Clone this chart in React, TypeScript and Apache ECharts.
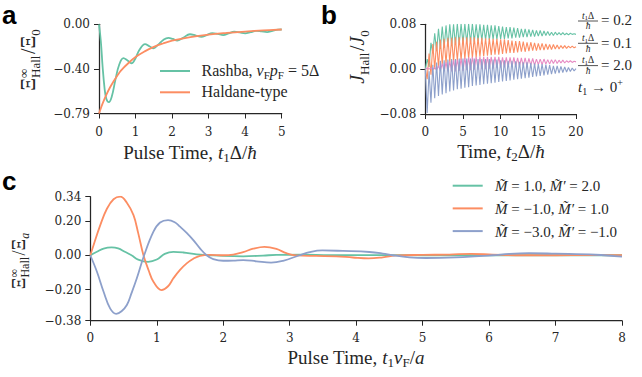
import React, { useEffect, useRef } from 'react';
import * as echarts from 'echarts';

const SERIF = "'Liberation Serif', 'Times New Roman', serif";
const TICK_FONT = 'DejaVu Serif';
const SANS = "'Liberation Sans', Arial, sans-serif";
const INK = '#262626';
const GREEN = '#66c2a5';
const ORANGE = '#fc8d62';
const BLUE = '#8da0cb';
const PINK = '#e78ac3';

// ---------- Panel a ----------
const aXTicks = [0, 5, 1];
const aYTicks = [-0.79, -0.4, 0.0];
const aRashba: [number, number][] = [
  [0, 0], [0.05, -0.15], [0.1, -0.38], [0.15, -0.56], [0.2, -0.66], [0.27, -0.69], [0.35, -0.64],
  [0.45, -0.49], [0.55, -0.36], [0.67, -0.3], [0.78, -0.32], [0.89, -0.345], [1.0, -0.3], [1.1, -0.23],
  [1.26, -0.175], [1.38, -0.195], [1.49, -0.213], [1.62, -0.18], [1.76, -0.138], [1.9, -0.12], [2.02, -0.13],
  [2.14, -0.145], [2.3, -0.12], [2.49, -0.088], [2.65, -0.1], [2.8, -0.112], [2.95, -0.095], [3.1, -0.078],
  [3.25, -0.085], [3.4, -0.095], [3.55, -0.08], [3.7, -0.066], [3.85, -0.072], [4.0, -0.08], [4.15, -0.07],
  [4.3, -0.058], [4.45, -0.063], [4.6, -0.069], [4.75, -0.058], [4.9, -0.048], [5.0, -0.046],
];
const aHaldane: [number, number][] = [
  [0, -0.79], [0.05, -0.745], [0.1, -0.7], [0.2, -0.625], [0.3, -0.56], [0.4, -0.505], [0.5, -0.455],
  [0.6, -0.41], [0.8, -0.345], [1.0, -0.29], [1.25, -0.24], [1.5, -0.2], [1.75, -0.17], [2.0, -0.145],
  [2.5, -0.113], [3.0, -0.091], [3.5, -0.076], [4.0, -0.064], [4.5, -0.054], [5.0, -0.046],
];

// ---------- Panel b (samples every 0.25 time units, peaks and troughs) ----------
const bStep = 0.25;
const bXTicks = [0, 20, 5];
const bYTicks = [-0.08, 0.08, 0.08];
const bGreen = [
  0.000, 0.018, 0.004, 0.047, 0.028, 0.064, 0.032, 0.072, 0.036, 0.076,
  0.038, 0.078, 0.040, 0.080, 0.041, 0.080, 0.043, 0.081, 0.044, 0.081,
  0.046, 0.081, 0.047, 0.081, 0.048, 0.081, 0.049, 0.080, 0.050, 0.080,
  0.051, 0.079, 0.052, 0.079, 0.052, 0.078, 0.053, 0.078, 0.053, 0.077,
  0.054, 0.076, 0.054, 0.075, 0.055, 0.075, 0.055, 0.074, 0.056, 0.073,
  0.056, 0.072, 0.057, 0.072, 0.057, 0.071, 0.058, 0.070, 0.058, 0.069,
  0.059, 0.069, 0.059, 0.068, 0.060, 0.067, 0.060, 0.066, 0.060, 0.066,
  0.061, 0.065, 0.061, 0.065, 0.061, 0.064, 0.061, 0.064, 0.062, 0.063,
  0.062,
];
const bOrange = [
  0.000, -0.018, 0.028, -0.010, 0.045, 0.000, 0.049, 0.004, 0.053, 0.008,
  0.054, 0.010, 0.056, 0.012, 0.056, 0.013, 0.057, 0.015, 0.057, 0.016,
  0.057, 0.018, 0.057, 0.019, 0.057, 0.020, 0.057, 0.021, 0.056, 0.022,
  0.056, 0.023, 0.055, 0.024, 0.055, 0.025, 0.054, 0.026, 0.054, 0.026,
  0.053, 0.027, 0.053, 0.028, 0.052, 0.029, 0.051, 0.029, 0.050, 0.030,
  0.050, 0.031, 0.049, 0.031, 0.048, 0.032, 0.048, 0.033, 0.047, 0.033,
  0.046, 0.034, 0.046, 0.034, 0.045, 0.035, 0.044, 0.035, 0.044, 0.036,
  0.043, 0.036, 0.042, 0.037, 0.042, 0.037, 0.041, 0.038, 0.041, 0.038,
  0.040,
];
const bPink = [
  0.000, 0.002, 0.000, 0.002, -0.001, 0.003, -0.002, 0.006, -0.003, 0.010,
  -0.004, 0.012, -0.004, 0.014, -0.004, 0.016, -0.004, 0.017, -0.003, 0.019,
  -0.003, 0.020, -0.002, 0.021, -0.002, 0.022, -0.001, 0.022, -0.001, 0.022,
  0.000, 0.022, 0.000, 0.022, 0.001, 0.022, 0.001, 0.022, 0.002, 0.022,
  0.003, 0.021, 0.003, 0.021, 0.004, 0.021, 0.004, 0.021, 0.005, 0.020,
  0.005, 0.020, 0.006, 0.020, 0.006, 0.019, 0.007, 0.019, 0.007, 0.018,
  0.008, 0.018, 0.008, 0.018, 0.009, 0.017, 0.009, 0.017, 0.010, 0.017,
  0.010, 0.016, 0.011, 0.016, 0.011, 0.015, 0.012, 0.015, 0.012, 0.014,
  0.013,
];
const bBlue = [
  0.000, -0.078, -0.004, -0.060, 0.008, -0.052, 0.012, -0.048, 0.015, -0.045,
  0.016, -0.043, 0.017, -0.040, 0.018, -0.038, 0.018, -0.036, 0.019, -0.035,
  0.019, -0.033, 0.019, -0.032, 0.019, -0.030, 0.019, -0.029, 0.018, -0.028,
  0.018, -0.027, 0.018, -0.026, 0.018, -0.025, 0.017, -0.024, 0.017, -0.023,
  0.016, -0.022, 0.016, -0.021, 0.015, -0.020, 0.015, -0.019, 0.014, -0.018,
  0.013, -0.017, 0.012, -0.016, 0.012, -0.015, 0.011, -0.014, 0.010, -0.013,
  0.009, -0.012, 0.009, -0.011, 0.008, -0.010, 0.007, -0.009, 0.006, -0.008,
  0.006, -0.007, 0.005, -0.006, 0.004, -0.005, 0.003, -0.004, 0.002, -0.003,
  0.001,
];
const bLegendValues = ['0.2', '0.1', '2.0'];

// ---------- Panel c ----------
const cXTicks = [0, 8, 1];
const cYTicks = [-0.38, -0.2, 0.0, 0.2, 0.34];
const cGreen: [number, number][] = [
  [0, 0], [0.1, 0.02], [0.2, 0.039], [0.32, 0.046], [0.42, 0.04], [0.52, 0.02], [0.62, 0.0], [0.72, -0.025],
  [0.87, -0.038], [1.0, -0.025], [1.12, 0.008], [1.25, 0.02], [1.4, 0.016], [1.6, 0.005], [1.8, 0.0],
  [2.0, -0.004], [2.3, -0.006], [2.6, -0.002], [2.8, 0.002], [3.2, 0.003], [3.6, 0.0], [4.0, 0.001],
  [5, 0.0], [6, 0.0], [7, 0.0], [8, 0.0],
];
const cOrange: [number, number][] = [
  [0, 0], [0.05, 0.06], [0.15, 0.175], [0.25, 0.27], [0.35, 0.325], [0.45, 0.34], [0.55, 0.305], [0.65, 0.233],
  [0.72, 0.13], [0.8, 0.0], [0.88, -0.09], [0.95, -0.154], [1.07, -0.202], [1.17, -0.18], [1.25, -0.134],
  [1.35, -0.085], [1.45, -0.047], [1.55, -0.02], [1.65, -0.003], [1.8, 0.002], [2.0, 0.0], [2.15, 0.004],
  [2.3, 0.018], [2.45, 0.038], [2.62, 0.049], [2.8, 0.037], [2.95, 0.012], [3.1, -0.001], [3.4, -0.004],
  [3.7, -0.006], [3.95, -0.013], [4.19, -0.018], [4.4, -0.012], [4.62, -0.001], [5.0, 0.002], [5.4, 0.004],
  [5.73, 0.008], [6.05, 0.004], [6.5, 0.0], [7.0, 0.0], [7.5, 0.001], [8.0, 0.0],
];
const cBlue: [number, number][] = [
  [0, 0], [0.1, -0.096], [0.2, -0.212], [0.3, -0.31], [0.39, -0.34], [0.47, -0.325], [0.55, -0.289],
  [0.62, -0.22], [0.7, -0.134], [0.81, 0.0], [0.95, 0.137], [1.05, 0.19], [1.17, 0.204], [1.27, 0.192],
  [1.35, 0.166], [1.45, 0.13], [1.55, 0.088], [1.65, 0.04], [1.75, 0.0], [1.85, -0.022], [2.0, -0.032],
  [2.15, -0.031], [2.3, -0.028], [2.5, -0.035], [2.72, -0.043], [2.9, -0.032], [3.15, 0.0], [3.3, 0.018],
  [3.49, 0.028], [3.8, 0.025], [4.2, 0.019], [4.4, 0.01], [4.55, 0.0], [4.8, -0.012], [5.05, -0.016],
  [5.5, -0.012], [6.05, 0.0], [6.3, 0.008], [6.6, 0.012], [7.0, 0.009], [7.6, 0.003], [8.0, -0.008],
];
const cLegend = [
  { color: GREEN, m: '1.0', mp: '2.0' },
  { color: ORANGE, m: '−1.0', mp: '1.0' },
  { color: BLUE, m: '−3.0', mp: '−1.0' },
];

// ---------- helpers ----------
type Piece = { t: string; s?: number; i?: boolean; b?: number; gap?: number; hold?: boolean };
let measureCtx: CanvasRenderingContext2D | null = null;
function textWidth(t: string, s: number, italic: boolean) {
  if (!measureCtx) measureCtx = document.createElement('canvas').getContext('2d');
  if (!measureCtx) return t.length * s * 0.5;
  measureCtx.font = `${italic ? 'italic ' : ''}${s}px ${SERIF}`;
  return measureCtx.measureText(t).width;
}
function mathGroup(
  pieces: Piece[], x: number, y: number,
  opts: { size: number; align?: 'left' | 'center' | 'right'; rotation?: number; fill?: string }
) {
  const children: any[] = [];
  let cx = 0;
  let held = 0;
  for (const p of pieces) {
    const s = p.s ?? opts.size;
    cx += p.gap ?? 0;
    const w = textWidth(p.t, s, !!p.i);
    children.push({
      type: 'text', x: cx, y: (p.b ?? 0) - 0.34 * s,
      style: {
        text: p.t, fontSize: s, fontFamily: SERIF, fontStyle: p.i ? 'italic' : 'normal',
        fill: opts.fill ?? INK, align: 'left', verticalAlign: 'middle',
      },
    });
    if (p.hold) held = Math.max(held, w);
    else { cx += Math.max(w, held); held = 0; }
  }
  const W = cx;
  const shift = opts.align === 'center' ? -W / 2 : opts.align === 'right' ? -W : 0;
  children.forEach((c) => (c.x += shift));
  return { type: 'group', x, y, rotation: opts.rotation ?? 0, silent: true, children };
}
const fmtY = (v: number) => (v < 0 ? '−' : '') + Math.abs(v).toFixed(2);
const fmtX = (v: number) => String(v);

const labelBase = {
  color: INK, fontFamily: TICK_FONT, fontSize: 12, showMinLabel: true, showMaxLabel: true, hideOverlap: false,
};
function xAxis(gridIndex: number, ticks: number[], margin: number) {
  return {
    type: 'value', gridIndex, min: ticks[0], max: ticks[1], interval: ticks[2],
    axisLine: { show: true, onZero: false, lineStyle: { color: INK, width: 1.25 } },
    axisTick: { show: true, length: 5, lineStyle: { color: INK, width: 1 } },
    axisLabel: { ...labelBase, margin, formatter: fmtX },
    splitLine: { show: false },
  };
}
function yAxis(gridIndex: number, min: number, max: number, custom: number[] | null, interval?: number) {
  const ax: any = {
    type: 'value', gridIndex, min, max,
    axisLine: { show: true, onZero: false, lineStyle: { color: INK, width: 1.25 } },
    axisTick: { show: true, length: 5, lineStyle: { color: INK, width: 1 } },
    axisLabel: { ...labelBase, margin: 9, formatter: fmtY },
    splitLine: { show: false },
  };
  if (custom) {
    ax.axisLabel.customValues = custom;
    ax.axisTick.customValues = custom;
  } else {
    ax.interval = interval;
  }
  return ax;
}
function lineSeries(name: string, data: any[], xi: number, color: string, width: number, smooth: number | boolean) {
  return {
    name, type: 'line', xAxisIndex: xi, yAxisIndex: xi, data, showSymbol: false, symbol: 'none',
    smooth, color, lineStyle: { color, width }, silent: true, z: 3,
  };
}

function buildOption() {
  const graphic: any[] = [];
  // panel letters
  const LS = 26;
  const letter = (t: string, x: number, baseline: number) => ({
    type: 'text', x, y: baseline - 0.3465 * LS,
    style: { text: t, fontSize: LS, fontWeight: 'bold', fontFamily: SANS, fill: '#000', verticalAlign: 'middle' },
  });
  graphic.push(letter('a', 2, 24), letter('b', 321, 24), letter('c', 2, 190));

  // x titles
  graphic.push(mathGroup([{ t: 'Pulse Time, ' }, { t: 't', i: true }, { t: '1', s: 13, b: 3 }, { t: 'Δ' }, { t: '/' }, { t: 'ħ', i: true }], 190, 158.5, { size: 19, align: 'center' }));
  graphic.push(mathGroup([{ t: 'Time, ' }, { t: 't', i: true }, { t: '2', s: 13, b: 3 }, { t: 'Δ' }, { t: '/' }, { t: 'ħ', i: true }], 501, 158, { size: 19, align: 'center' }));
  graphic.push(mathGroup([{ t: 'Pulse Time, ' }, { t: 't', i: true }, { t: '1', s: 13, b: 3 }, { t: 'v', i: true }, { t: 'F', s: 13, b: 3 }, { t: '/' }, { t: 'a', i: true }], 356, 364, { size: 19, align: 'center' }));

  // y titles (rotated)
  const xiTitle = (sub: Piece, ss: number): Piece[] => [
    { t: 'Ξ' }, { t: '∞', s: ss, b: -7, hold: true }, { t: 'Hall', s: ss, b: 4.5 }, { t: '/', gap: 1.5 }, { t: 'Ξ' }, sub,
  ];
  graphic.push(mathGroup(xiTitle({ t: '0', s: 13, b: 4.5 }, 13), 35, 60, { size: 20, align: 'center', rotation: Math.PI / 2 }));
  graphic.push(mathGroup(xiTitle({ t: 'a', i: true, s: 12, b: 4 }, 12), 25, 261, { size: 18, align: 'center', rotation: Math.PI / 2 }));
  graphic.push(mathGroup([{ t: 'J', i: true }, { t: 'Hall', s: 13, b: 4.5 }, { t: '/', gap: 1.5 }, { t: 'J', i: true }, { t: '0', s: 13, b: 4.5 }], 364, 57, { size: 20, align: 'center', rotation: Math.PI / 2 }));

  // legend a
  const aLeg = [
    { color: GREEN, y: 71, pieces: [{ t: 'Rashba, ' }, { t: 'v', i: true }, { t: 'F', s: 11, b: 3 }, { t: 'p', i: true }, { t: 'F', s: 11, b: 3 }, { t: ' = 5Δ' }] as Piece[] },
    { color: ORANGE, y: 92.3, pieces: [{ t: 'Haldane-type' }] as Piece[] },
  ];
  aLeg.forEach((l) => {
    graphic.push({ type: 'line', shape: { x1: 160, y1: l.y, x2: 190, y2: l.y }, style: { stroke: l.color, lineWidth: 2 }, silent: true });
    graphic.push(mathGroup(l.pieces, 201.5, l.y + 5, { size: 16 }));
  });

  // legend c
  cLegend.forEach((l, k) => {
    const y = 185.7 + k * 22.7;
    graphic.push({ type: 'line', shape: { x1: 452.7, y1: y, x2: 482.7, y2: y }, style: { stroke: l.color, lineWidth: 2 }, silent: true });
    graphic.push(mathGroup([
      { t: 'M\u0303', i: true }, { t: ` = ${l.m}, ` }, { t: 'M\u0303\u2032', i: true }, { t: ` = ${l.mp}` },
    ], 495, y + 5.5, { size: 15 }));
  });

  // legend b (fractions)
  bLegendValues.forEach((v, k) => {
    const bar = 21 + k * 22.3;
    graphic.push(mathGroup([{ t: 't', i: true }, { t: '1', s: 7, b: 1.8 }, { t: 'Δ' }], 588, bar - 2.1, { size: 9.5, align: 'center' }));
    graphic.push({ type: 'line', shape: { x1: 578, y1: bar, x2: 598, y2: bar }, style: { stroke: INK, lineWidth: 0.8 }, silent: true });
    graphic.push(mathGroup([{ t: 'ħ', i: true }], 588, bar + 8.7, { size: 9.5, align: 'center' }));
    graphic.push(mathGroup([{ t: `= ${v}` }], 601, bar + 4.5, { size: 15 }));
  });
  graphic.push(mathGroup([{ t: 't', i: true }, { t: '1', s: 10, b: 3 }, { t: ' → 0' }, { t: '+', s: 10, b: -6 }], 578, 92, { size: 15 }));

  const bData = (arr: number[]) => arr.map((v, k) => [k * bStep, v]);

  return {
    animation: false,
    backgroundColor: '#fff',
    textStyle: { fontFamily: TICK_FONT, color: INK },
    grid: [
      { left: 99, top: 24.3, width: 182.7, height: 89.2 },
      { left: 425.3, top: 24.3, width: 150.7, height: 89.7 },
      { left: 90.3, top: 196.7, width: 531.7, height: 124 },
    ],
    xAxis: [xAxis(0, aXTicks, 12), xAxis(1, bXTicks, 12), xAxis(2, cXTicks, 11)],
    yAxis: [
      yAxis(0, aYTicks[0], aYTicks[aYTicks.length - 1], aYTicks),
      yAxis(1, bYTicks[0], bYTicks[1], null, bYTicks[2]),
      yAxis(2, cYTicks[0], cYTicks[cYTicks.length - 1], cYTicks),
    ],
    series: [
      lineSeries('Rashba', aRashba, 0, GREEN, 1.8, 0.4),
      lineSeries('Haldane-type', aHaldane, 0, ORANGE, 1.8, 0.4),
      lineSeries('t1Δ/ħ = 0.2', bData(bGreen), 1, GREEN, 1.1, false),
      lineSeries('t1Δ/ħ = 0.1', bData(bOrange), 1, ORANGE, 1.1, false),
      lineSeries('t1Δ/ħ = 2.0', bData(bPink), 1, PINK, 1.1, false),
      lineSeries('t1 → 0+', bData(bBlue), 1, BLUE, 1.1, false),
      lineSeries('M=1.0, M\'=2.0', cGreen, 2, GREEN, 1.8, 0.4),
      lineSeries('M=-1.0, M\'=1.0', cOrange, 2, ORANGE, 1.8, 0.4),
      lineSeries('M=-3.0, M\'=-1.0', cBlue, 2, BLUE, 1.8, 0.4),
    ],
    graphic,
  };
}

export default function App() {
  const ref = useRef<HTMLDivElement>(null);
  useEffect(() => {
    if (!ref.current) return;
    const chart = echarts.init(ref.current, null, { renderer: 'svg' });
    chart.setOption(buildOption() as any);
    return () => chart.dispose();
  }, []);
  return (
    <div
      ref={ref}
      style={{ position: 'fixed', left: 0, top: 0, width: 642, height: 377, background: '#fff' }}
    />
  );
}
